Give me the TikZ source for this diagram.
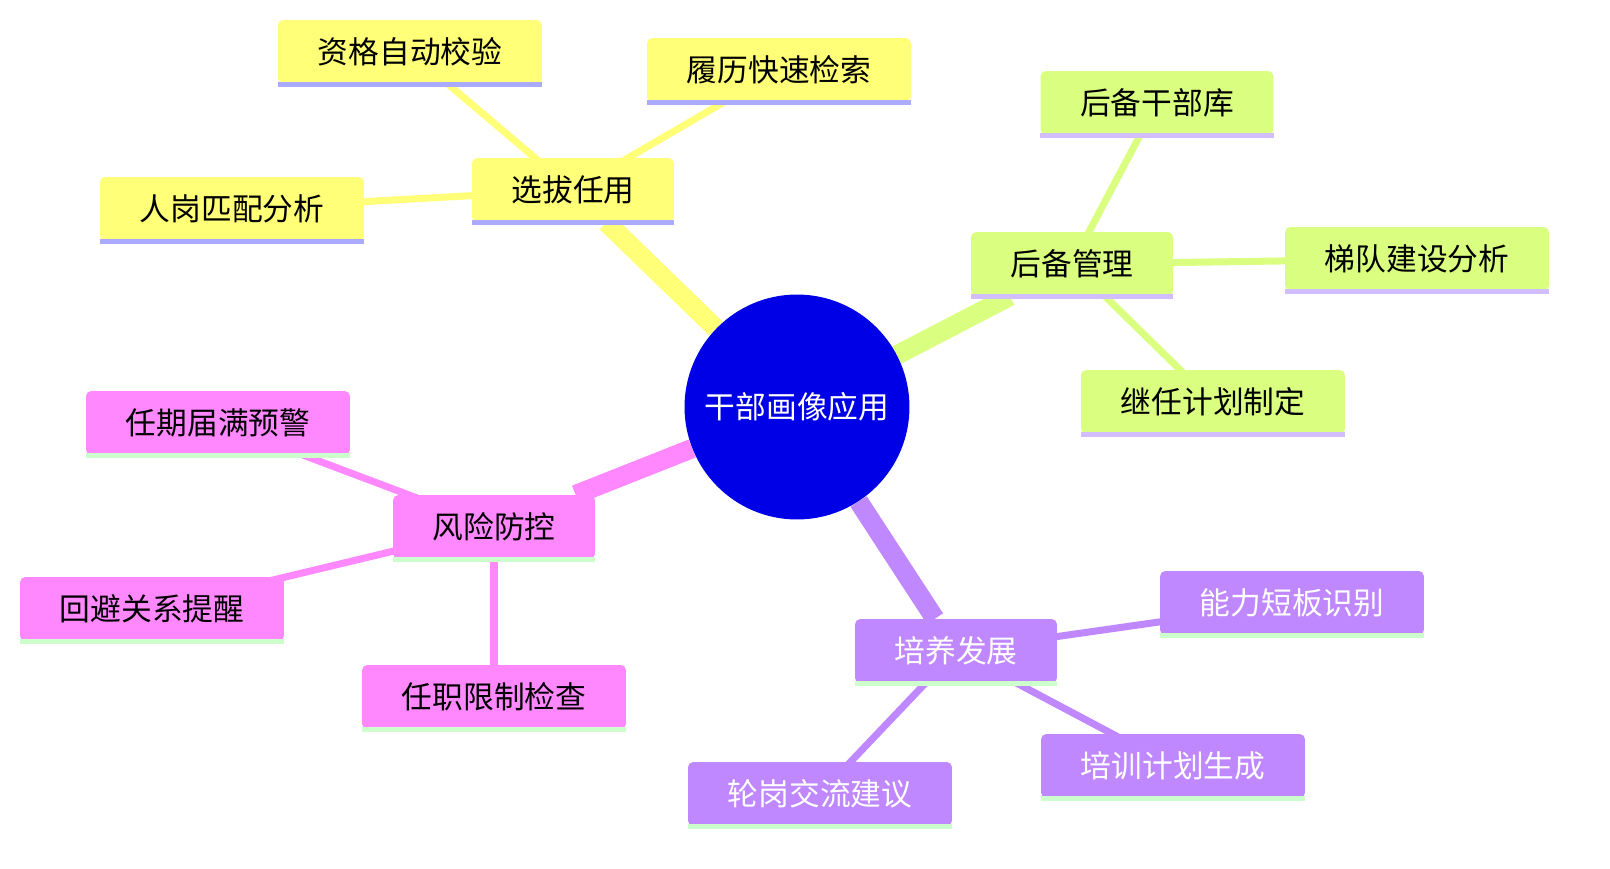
\documentclass[tikz,border=0pt]{standalone}
\usepackage{fontspec}
\setmainfont{Noto Sans CJK SC}
\usetikzlibrary{backgrounds}
\definecolor{rootblue}{RGB}{0, 0, 230}
\definecolor{selyellow}{RGB}{255, 255, 120}
\definecolor{resgreen}{RGB}{218, 255, 128}
\definecolor{riskpink}{RGB}{255, 136, 255}
\definecolor{devpurple}{RGB}{192, 136, 255}
\definecolor{linelav}{RGB}{170, 170, 255}
\definecolor{linelav2}{RGB}{210, 190, 255}
\definecolor{linegreen}{RGB}{204, 255, 204}

\begin{document}
\begin{tikzpicture}[x=0.02cm, y=-0.02cm,
  font=\fontsize{17.5}{21}\selectfont,
  topic/.style={rectangle, rounded corners=3pt, minimum width=4.04cm, minimum height=1.28cm, inner sep=0pt},
  leaf/.style={rectangle, rounded corners=3pt, minimum width=5.28cm, minimum height=1.28cm, inner sep=0pt},
  trunk/.style={line width=11pt},
  twig/.style={line width=4pt}]
  \useasboundingbox (0,0) rectangle (1610,869);

  % Root
  \node[circle, fill=rootblue, minimum size=4.5cm, text=white] (root) at (797,407) {干部画像应用};

  % Selection
  \node[topic, fill=selyellow] (sel) at (573,190) {选拔任用};
  \node[leaf, fill=selyellow] (selA) at (410,52) {资格自动校验};
  \node[leaf, fill=selyellow] (selB) at (779,70) {履历快速检索};
  \node[leaf, fill=selyellow] (selC) at (232,209) {人岗匹配分析};

  % Reserve
  \node[topic, fill=resgreen] (res) at (1072,264) {后备管理};
  \node[leaf, fill=resgreen, minimum width=4.66cm] (resA) at (1157,103) {后备干部库};
  \node[leaf, fill=resgreen] (resB) at (1417,259) {梯队建设分析};
  \node[leaf, fill=resgreen] (resC) at (1213,402) {继任计划制定};

  % Risk
  \node[topic, fill=riskpink] (risk) at (494,527) {风险防控};
  \node[leaf, fill=riskpink] (riskA) at (218,423) {任期届满预警};
  \node[leaf, fill=riskpink] (riskB) at (152,609) {回避关系提醒};
  \node[leaf, fill=riskpink] (riskC) at (494,697) {任职限制检查};

  % Development
  \node[topic, fill=devpurple, text=white] (dev) at (956,651) {培养发展};
  \node[leaf, fill=devpurple, text=white] (devA) at (1292,603) {能力短板识别};
  \node[leaf, fill=devpurple, text=white] (devB) at (1173,766) {培训计划生成};
  \node[leaf, fill=devpurple, text=white] (devC) at (820,794) {轮岗交流建议};

  % Underlines
  \foreach \n/\c in {sel/linelav, selA/linelav, selB/linelav, selC/linelav,
                     res/linelav2, resA/linelav2, resB/linelav2, resC/linelav2,
                     risk/linegreen, riskA/linegreen, riskB/linegreen, riskC/linegreen,
                     dev/linegreen, devA/linegreen, devB/linegreen, devC/linegreen}
    \draw[\c, line width=2.5pt] (\n.south west) -- (\n.south east);

  % Branches
  \begin{scope}[on background layer]
    \draw[trunk, selyellow] (root) -- (sel);
    \draw[trunk, resgreen] (root) -- (res);
    \draw[trunk, riskpink] (root) -- (risk);
    \draw[trunk, devpurple] (root) -- (dev);
    \foreach \t in {A,B,C} {
      \draw[twig, selyellow] (sel.center) -- (sel\t.center);
      \draw[twig, resgreen] (res.center) -- (res\t.center);
      \draw[twig, riskpink] (risk.center) -- (risk\t.center);
      \draw[twig, devpurple] (dev.center) -- (dev\t.center);
    }
  \end{scope}
\end{tikzpicture}
\end{document}
